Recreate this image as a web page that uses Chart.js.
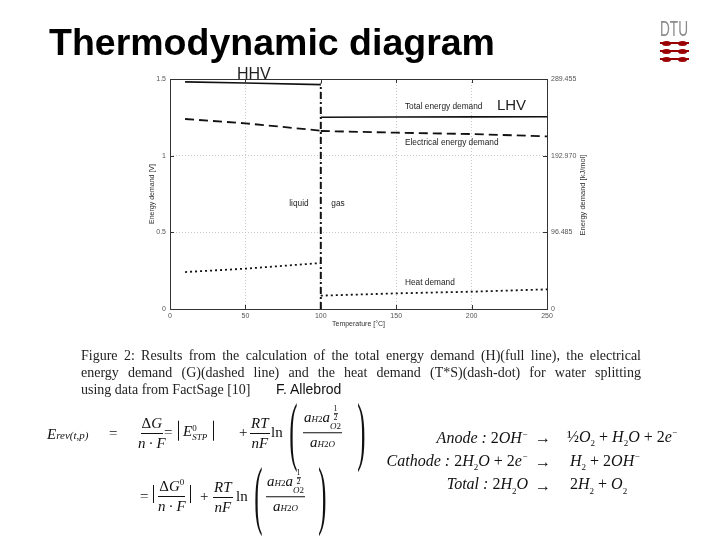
<!DOCTYPE html>
<html>
<head>
<meta charset="utf-8">
<script src="https://cdn.jsdelivr.net/npm/chart.js@4.4.0/dist/chart.umd.min.js"></script>
<style>
  html, body { margin: 0; padding: 0; background: #fff; }
  #page { position: relative; width: 720px; height: 540px; overflow: hidden; font-family: "Liberation Sans", Arial, sans-serif; }
  #chart { position: absolute; left: 0; top: 0; }
  .abs { position: absolute; white-space: nowrap; }
  .title { left: 49px; top: 24px; font-size: 37.5px; font-weight: bold; line-height: 1; color: #000; }
  .dtu { left: 660px; top: 18px; font-size: 22px; line-height: 1; color: #8a8a8a; transform: scaleX(0.62); transform-origin: left top; }
  .bar { position: absolute; left: 660px; width: 29px; height: 2px; background: #990000; }
  .blob { position: absolute; width: 9px; height: 5px; border-radius: 50%; background: #990000; }
  .caption { left: 81px; top: 347px; width: 560px; font: 14px/17px "Liberation Serif", "DejaVu Serif", serif; color: #222; }
  .just { text-align: justify; text-align-last: justify; }
  .author { left: 276px; top: 381px; font-size: 14px; line-height: 16px; color: #111; }
  .m { position: absolute; white-space: nowrap; transform: translateY(-50%); font: 15px/1.1 "Liberation Serif", "DejaVu Serif", serif; color: #111; }
  .m i { font-style: italic; }
  .frac { display: inline-flex; flex-direction: column; align-items: center; vertical-align: middle; }
  .frac .num { border-bottom: 1px solid #111; padding: 0 1px 1px; }
  .frac .den { padding: 1px 1px 0; }
  .sm { font-size: 9px; }
  .sub { font-size: 11px; }
  .ss { display: inline-flex; flex-direction: column; vertical-align: middle; font-size: 9px; line-height: 1; }
  .tiny { display: inline-flex; flex-direction: column; align-items: center; font-size: 8px; line-height: 1; }
  .tiny span:first-child { border-bottom: 1px solid #111; }
  .bars { border-left: 1px solid #111; border-right: 1px solid #111; padding: 2px 6px 2px 4px; }
  .paren { display: inline-block; font-size: 38px; transform: scale(0.65, 2.0); }
  .rx { position: absolute; white-space: nowrap; transform: translateY(-50%); font: italic 16px/1 "Liberation Serif", "DejaVu Serif", serif; color: #111; }
  .rx b { font-weight: normal; font-style: normal; }
</style>
</head>
<body>
<div id="page">
  <canvas id="chart" width="720" height="540"></canvas>

  <div class="abs title">Thermodynamic diagram</div>

  <div class="abs dtu">DTU</div>
  <div class="bar" style="top:42px"></div><div class="blob" style="left:662px;top:40.5px"></div><div class="blob" style="left:678px;top:40.5px"></div>
  <div class="bar" style="top:50px"></div><div class="blob" style="left:662px;top:48.5px"></div><div class="blob" style="left:678px;top:48.5px"></div>
  <div class="bar" style="top:58px"></div><div class="blob" style="left:662px;top:56.5px"></div><div class="blob" style="left:678px;top:56.5px"></div>

  <div class="abs caption">
    <div class="just">Figure 2: Results from the calculation of the total energy demand (H)(full line), the electrical</div>
    <div class="just">energy demand (G)(dashed line) and the heat demand (T*S)(dash-dot) for water splitting</div>
    <div>using data from FactSage [10]</div>
  </div>
  <div class="abs author">F. Allebrod</div>

  <!-- equation, first line -->
  <div class="m" style="left:47px;top:434px"><i>E</i><span class="sub"><i>rev(t,p)</i></span></div>
  <div class="m" style="left:109px;top:433px">=</div>
  <div class="m" style="left:137px;top:433px"><span class="frac"><span class="num">&Delta;<i>G</i></span><span class="den"><i>n</i>&thinsp;&middot;&thinsp;<i>F</i></span></span></div>
  <div class="m" style="left:164px;top:432px">=</div>
  <div class="m" style="left:178px;top:432px"><span class="bars"><i>E</i><span class="ss"><span>0</span><span><i>STP</i></span></span></span></div>
  <div class="m" style="left:239px;top:432px">+</div>
  <div class="m" style="left:250px;top:433px"><span class="frac"><span class="num"><i>RT</i></span><span class="den"><i>nF</i></span></span></div>
  <div class="m" style="left:271px;top:432px">ln</div>
  <div class="m" style="left:287px;top:432px"><span class="paren">(</span></div>
  <div class="m" style="left:303px;top:428px"><span class="frac"><span class="num"><i>a</i><span class="sm"><i>H</i>2</span><i>a</i><span class="ss"><span class="tiny"><span>1</span><span>2</span></span><span><i>O</i>2</span></span></span><span class="den"><i>a</i><span class="sm"><i>H</i>2<i>O</i></span></span></span></div>
  <div class="m" style="left:355px;top:432px"><span class="paren">)</span></div>

  <!-- equation, second line -->
  <div class="m" style="left:140px;top:496px">=</div>
  <div class="m" style="left:153px;top:496px"><span class="bars" style="padding:1px 3px"><span class="frac"><span class="num">&Delta;<i>G</i><sup class="sm">0</sup></span><span class="den"><i>n</i>&thinsp;&middot;&thinsp;<i>F</i></span></span></span></div>
  <div class="m" style="left:200px;top:496px">+</div>
  <div class="m" style="left:213px;top:497px"><span class="frac"><span class="num"><i>RT</i></span><span class="den"><i>nF</i></span></span></div>
  <div class="m" style="left:236px;top:496px">ln</div>
  <div class="m" style="left:252px;top:496px"><span class="paren">(</span></div>
  <div class="m" style="left:266px;top:492px"><span class="frac"><span class="num"><i>a</i><span class="sm"><i>H</i>2</span><i>a</i><span class="ss"><span class="tiny"><span>1</span><span>2</span></span><span><i>O</i>2</span></span></span><span class="den"><i>a</i><span class="sm"><i>H</i>2<i>O</i></span></span></span></div>
  <div class="m" style="left:316px;top:496px"><span class="paren">)</span></div>

  <!-- half reactions -->
  <div class="rx" style="right:192px;top:438px">Anode : <b>2</b>OH<sup class="sm">&minus;</sup></div>
  <div class="rx" style="right:192px;top:462px">Cathode : <b>2</b>H<sub class="sm"><b>2</b></sub>O <b>+ 2</b>e<sup class="sm">&minus;</sup></div>
  <div class="rx" style="right:192px;top:486px">Total : <b>2</b>H<sub class="sm"><b>2</b></sub>O</div>
  <div class="rx" style="left:535px;top:438px"><b>&rarr;</b></div>
  <div class="rx" style="left:535px;top:462px"><b>&rarr;</b></div>
  <div class="rx" style="left:535px;top:486px"><b>&rarr;</b></div>
  <div class="rx" style="left:567px;top:438px"><b>&frac12;</b>O<sub class="sm"><b>2</b></sub> <b>+</b> H<sub class="sm"><b>2</b></sub>O <b>+ 2</b>e<sup class="sm">&minus;</sup></div>
  <div class="rx" style="left:570px;top:462px">H<sub class="sm"><b>2</b></sub> <b>+ 2</b>OH<sup class="sm">&minus;</sup></div>
  <div class="rx" style="left:570px;top:486px"><b>2</b>H<sub class="sm"><b>2</b></sub> <b>+</b> O<sub class="sm"><b>2</b></sub></div>
</div>

<script>
// values (temperature in °C, energy in V)
const temperatureLiquid = [10, 50, 100];
const temperatureGas = [100, 150, 200, 250];
const totalLiquid = [1.481, 1.474, 1.463];
const totalGas = [1.251, 1.252, 1.253, 1.254];
const electricalLiquid = [1.239, 1.211, 1.163];
const electricalGas = [1.161, 1.150, 1.141, 1.126];
const heatLiquid = [0.241, 0.263, 0.300];
const heatGas = [0.087, 0.102, 0.113, 0.128];
const boilingTemperature = [100, 100];
const boilingLine = [0, 1.47];

const temperatureTicks = [0, 50, 100, 150, 200, 250];
const voltTicks = [0, 0.5, 1, 1.5];
const kjTicks = [0, 96.485, 192.970, 289.455];

const FONT = '"Liberation Sans", Arial, sans-serif';

function pts(xs, ys) {
    return xs.map((x, i) => ({ x: x, y: ys[i] }));
}

function curve(data, dash, width) {
    return {
        data: data,
        borderColor: '#111',
        borderWidth: width,
        borderDash: dash,
        pointRadius: 0,
        fill: false,
        tension: 0,
        yAxisID: 'y'
    };
}

const annotate = {
    id: 'annotate',
    afterDraw(chart) {
        const { ctx, chartArea: a, scales: { x, y } } = chart;
        ctx.save();

        // box round the plot
        ctx.strokeStyle = '#333';
        ctx.lineWidth = 1;
        ctx.strokeRect(Math.round(a.left) + 0.5, Math.round(a.top) + 0.5, Math.round(a.width), Math.round(a.height));

        // inner tick marks
        ctx.beginPath();
        temperatureTicks.slice(1, -1).forEach(t => {
            const px = Math.round(x.getPixelForValue(t)) + 0.5;
            ctx.moveTo(px, a.bottom); ctx.lineTo(px, a.bottom - 4);
            ctx.moveTo(px, a.top); ctx.lineTo(px, a.top + 4);
        });
        voltTicks.slice(1, -1).forEach(v => {
            const py = Math.round(y.getPixelForValue(v)) + 0.5;
            ctx.moveTo(a.left, py); ctx.lineTo(a.left + 4, py);
            ctx.moveTo(a.right, py); ctx.lineTo(a.right - 4, py);
        });
        ctx.stroke();

        // curve and phase labels
        ctx.fillStyle = '#222';
        ctx.textBaseline = 'middle';
        ctx.textAlign = 'left';
        ctx.font = '8.3px ' + FONT;
        ctx.fillText('Total energy demand', x.getPixelForValue(155.8), y.getPixelForValue(1.317));
        ctx.fillText('Electrical energy demand', x.getPixelForValue(155.8), y.getPixelForValue(1.083));
        ctx.fillText('Heat demand', x.getPixelForValue(155.8), y.getPixelForValue(0.170));
        ctx.textAlign = 'center';
        ctx.fillText('liquid', x.getPixelForValue(85.5), y.getPixelForValue(0.685));
        ctx.fillText('gas', x.getPixelForValue(111.4), y.getPixelForValue(0.685));

        // HHV / LHV
        ctx.textAlign = 'left';
        ctx.textBaseline = 'alphabetic';
        ctx.font = '16px ' + FONT;
        ctx.fillText('HHV', x.getPixelForValue(44.4), y.getPixelForValue(1.5));
        ctx.font = '15px ' + FONT;
        ctx.fillText('LHV', x.getPixelForValue(216.8), y.getPixelForValue(1.298));

        // right axis title, reading bottom to top
        ctx.translate(583, 195);
        ctx.rotate(-Math.PI / 2);
        ctx.textAlign = 'center';
        ctx.textBaseline = 'middle';
        ctx.font = '7.5px ' + FONT;
        ctx.fillStyle = '#333';
        ctx.fillText('Energy demand [kJ/mol]', 0, 0);
        ctx.restore();
    }
};

new Chart(document.getElementById('chart'), {
    type: 'line',
    data: {
        datasets: [
            curve(pts(temperatureLiquid, totalLiquid), [], 1.6),
            curve(pts(temperatureGas, totalGas), [], 1.6),
            curve(pts(temperatureLiquid, electricalLiquid), [9, 5], 1.8),
            curve(pts(temperatureGas, electricalGas), [9, 5], 1.8),
            curve(pts(temperatureLiquid, heatLiquid), [2, 3], 1.8),
            curve(pts(temperatureGas, heatGas), [2, 3], 1.8),
            curve(pts(boilingTemperature, boilingLine), [7, 3, 2, 3], 2)
        ]
    },
    options: {
        responsive: false,
        animation: false,
        devicePixelRatio: 1,
        layout: { padding: { left: 140, top: 79, right: 120, bottom: 205 } },
        plugins: { legend: { display: false }, tooltip: { enabled: false } },
        scales: {
            x: {
                type: 'linear',
                min: 0, max: 250,
                afterBuildTicks: s => { s.ticks = temperatureTicks.map(v => ({ value: v })); },
                afterFit: s => { s.height = 26; },
                ticks: { font: { size: 7, family: FONT }, color: '#555', padding: 3, maxRotation: 0, callback: v => String(v) },
                grid: { color: '#c8c8c8', drawTicks: false },
                border: { display: false, dash: [1, 2] },
                title: { display: true, text: 'Temperature [°C]', font: { size: 7, family: FONT }, color: '#333', padding: { bottom: 7 } }
            },
            y: {
                position: 'left',
                min: 0, max: 1.5,
                afterBuildTicks: s => { s.ticks = voltTicks.map(v => ({ value: v })); },
                afterFit: s => { s.width = 30; },
                ticks: { font: { size: 7, family: FONT }, color: '#555', padding: 4, callback: v => String(v) },
                grid: { color: '#c8c8c8', drawTicks: false },
                border: { display: false, dash: [1, 2] },
                title: { display: true, text: 'Energy demand [V]', font: { size: 7, family: FONT }, color: '#333', padding: { top: 8 } }
            },
            y1: {
                position: 'right',
                min: 0, max: kjTicks[kjTicks.length - 1],
                afterBuildTicks: s => { s.ticks = kjTicks.map(v => ({ value: v })); },
                afterFit: s => { s.width = 53; },
                ticks: {
                    font: { size: 7, family: FONT }, color: '#555', padding: 4,
                    callback: v => v === 0 ? '0' : v.toFixed(3)
                },
                grid: { display: false, drawTicks: false },
                border: { display: false }
            }
        }
    },
    plugins: [annotate]
});
</script>
</body>
</html>
